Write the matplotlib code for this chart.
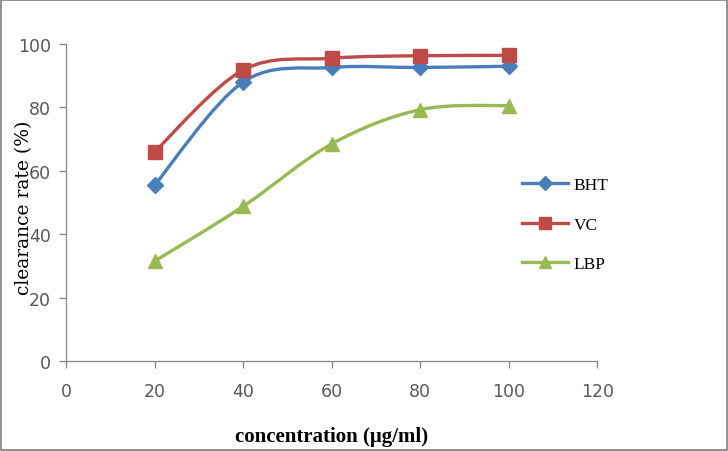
"""Clearance rate vs concentration for BHT, VC and LBP (Excel-style smoothed lines)."""

import matplotlib
matplotlib.use("Agg")
import matplotlib.pyplot as plt
from matplotlib.lines import Line2D
from matplotlib.patches import PathPatch, Rectangle
from matplotlib.path import Path

concentration = [20, 40, 60, 80, 100]
bht = [55.5, 88.0, 92.6, 92.6, 93.0]
vc = [66.0, 91.8, 95.5, 96.3, 96.4]
lbp = [31.5, 48.8, 68.5, 79.3, 80.6]

SERIES = [
    ("BHT", bht, "#4A7EBB", "D", 8),
    ("VC", vc, "#BE4B48", "s", 10),
    ("LBP", lbp, "#98B954", "^", 10),
]

SERIF = ["Liberation Serif", "DejaVu Serif"]


def smooth_path(xs, ys):
    """Catmull-Rom style Bezier through the points, like Excel's smoothed line."""
    pts = list(zip(xs, ys))
    verts = [pts[0]]
    codes = [Path.MOVETO]
    n = len(pts)
    for i in range(n - 1):
        p0 = pts[i - 1] if i > 0 else pts[i]
        p1 = pts[i]
        p2 = pts[i + 1]
        p3 = pts[i + 2] if i + 2 < n else pts[i + 1]
        c1 = (p1[0] + (p2[0] - p0[0]) / 6, p1[1] + (p2[1] - p0[1]) / 6)
        c2 = (p2[0] - (p3[0] - p1[0]) / 6, p2[1] - (p3[1] - p1[1]) / 6)
        verts += [c1, c2, p2]
        codes += [Path.CURVE4] * 3
    return Path(verts, codes)


fig = plt.figure(figsize=(7.28, 4.52), dpi=100)
ax = fig.add_axes([0.0907, 0.199, 0.730, 0.7014])

for name, vals, color, marker, ms in SERIES:
    ax.add_patch(PathPatch(smooth_path(concentration, vals), facecolor="none",
                           edgecolor=color, linewidth=2.4, capstyle="round", zorder=2))
    ax.plot(concentration, vals, linestyle="none", marker=marker, markersize=ms,
            color=color, markeredgecolor=color, zorder=3)

ax.set_xlim(0, 120)
ax.set_ylim(0, 100)
ax.set_xticks(range(0, 121, 20))
ax.set_yticks(range(0, 101, 20))

for side in ("top", "right"):
    ax.spines[side].set_visible(False)
for side in ("left", "bottom"):
    ax.spines[side].set_color("#868686")
    ax.spines[side].set_linewidth(0.9)
ax.tick_params(direction="out", length=5, width=0.9, color="#868686",
               labelcolor="#595959", labelsize=12.5)
ax.tick_params(axis="x", pad=10)
ax.tick_params(axis="y", pad=6)

fig.text(0.033, 0.54, "clearance rate (%)", rotation=90, ha="center", va="center",
         fontsize=13.5, family=["DejaVu Serif"], color="#000000")
fig.text(0.456, 0.033, "concentration (\u03bcg/ml)", ha="center", va="center",
         fontsize=15, fontweight="bold", family=SERIF)

handles = [Line2D([], [], color=c, marker=m, markersize=ms * 0.85, linewidth=2.4)
           for _, _, c, m, ms in SERIES]
ax.legend(handles, [s[0] for s in SERIES], loc="upper left",
          bbox_to_anchor=(0.829, 0.63), frameon=False, handlelength=2.65,
          labelspacing=1.35, handletextpad=0.3,
          prop={"family": SERIF, "size": 12.5})

fig.patches.append(Rectangle((0.002, 0.003), 0.996, 0.994, transform=fig.transFigure,
                             fill=False, edgecolor="#7f7f7f", linewidth=1.2))

fig.savefig("out.png", dpi=100)
